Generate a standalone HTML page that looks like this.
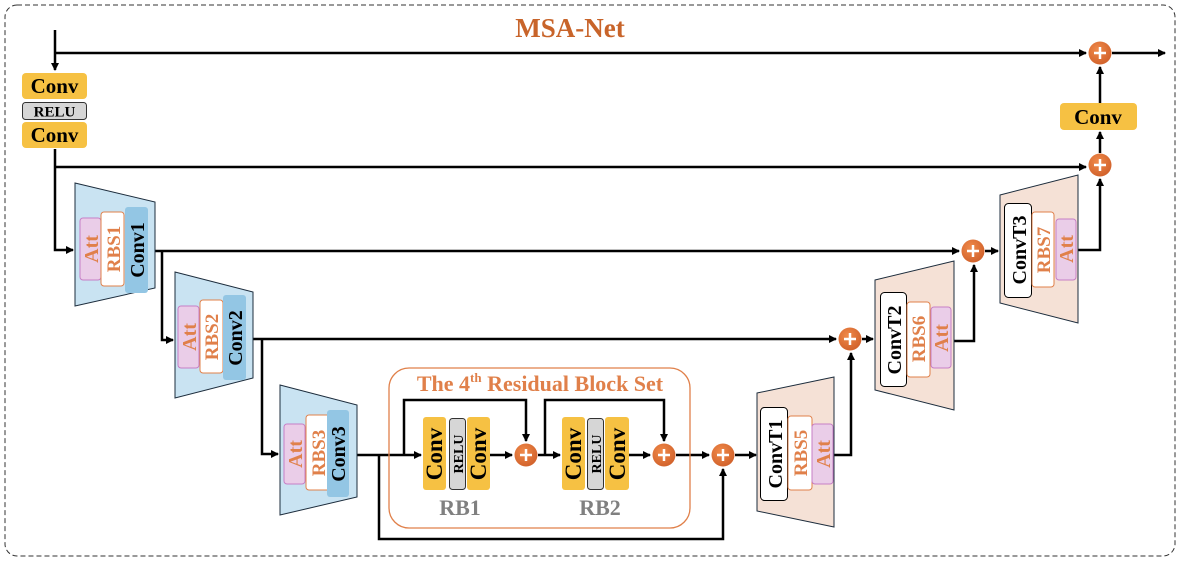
<!DOCTYPE html>
<html><head><meta charset="utf-8"><style>
html,body{margin:0;padding:0;background:#fff;}
svg{display:block;font-family:"Liberation Serif",serif;font-weight:bold;}
</style></head><body>
<svg width="1180" height="564" viewBox="0 0 1180 564" xmlns="http://www.w3.org/2000/svg">
<defs>
<marker id="a" markerWidth="8" markerHeight="8" refX="7" refY="4" orient="auto" markerUnits="userSpaceOnUse"><path d="M0,0 L8,4 L0,8 z" fill="#000"/></marker>
<radialGradient id="g" cx="0.4" cy="0.35" r="0.7"><stop offset="0" stop-color="#f08a4a"/><stop offset="1" stop-color="#d0602a"/></radialGradient>
<g id="plus"><circle r="11.5" fill="url(#g)"/><path d="M-6,0H6M0,-6V6" stroke="#fff" stroke-width="2.5"/></g>
</defs>
<rect x="5" y="5" width="1170" height="551" rx="12" fill="none" stroke="#333" stroke-dasharray="5,3" stroke-width="1"/>
<text x="570" y="37" font-size="27" fill="#c8642a" text-anchor="middle">MSA-Net</text>

<g stroke="#000" stroke-width="2.5" fill="none">
<path d="M55,30V70" marker-end="url(#a)"/>
<path d="M55,53H1086" marker-end="url(#a)"/>
<path d="M1112,53H1165" marker-end="url(#a)"/>
<path d="M55,149V250H73" marker-end="url(#a)"/>
<path d="M55,167H1086" marker-end="url(#a)"/>
<path d="M150,251H959" marker-end="url(#a)"/>
<path d="M162,251V340H173" marker-end="url(#a)"/>
<path d="M248,339H836" marker-end="url(#a)"/>
<path d="M262,339V454H278" marker-end="url(#a)"/>
<path d="M352,455H421" marker-end="url(#a)"/>
<path d="M379,455V539H723V469" marker-end="url(#a)"/>
<path d="M404,455V400H526V441" marker-end="url(#a)"/>
<path d="M490,455H512" marker-end="url(#a)"/>
<path d="M538,455H560" marker-end="url(#a)"/>
<path d="M545,455V400H664V441" marker-end="url(#a)"/>
<path d="M629,455H650" marker-end="url(#a)"/>
<path d="M676,455H709" marker-end="url(#a)"/>
<path d="M735,455H756" marker-end="url(#a)"/>
<path d="M833,455H851V353" marker-end="url(#a)"/>
<path d="M862,339H873" marker-end="url(#a)"/>
<path d="M951,341H974V265" marker-end="url(#a)"/>
<path d="M985,251H998" marker-end="url(#a)"/>
<path d="M1076,250H1100V179" marker-end="url(#a)"/>
<path d="M1100,153V132" marker-end="url(#a)"/>
<path d="M1100,103V67" marker-end="url(#a)"/>
</g>

<use href="#plus" x="1100" y="53"/>
<use href="#plus" x="1100" y="165"/>
<use href="#plus" x="973" y="251"/>
<use href="#plus" x="850" y="339"/>
<use href="#plus" x="526" y="455"/>
<use href="#plus" x="664" y="455"/>
<use href="#plus" x="723" y="455"/>

<rect x="22" y="73" width="65" height="26" rx="4" fill="#f6c143"/>
<text x="54.5" y="93" font-size="21" text-anchor="middle">Conv</text>
<rect x="22.5" y="102.5" width="64" height="17" rx="3" fill="#d6d6d6" stroke="#333"/>
<text x="54.5" y="116.5" font-size="15" text-anchor="middle">RELU</text>
<rect x="22" y="122" width="65" height="26" rx="4" fill="#f6c143"/>
<text x="54.5" y="142" font-size="21" text-anchor="middle">Conv</text>

<rect x="1060" y="103" width="77" height="27" rx="4" fill="#f6c143"/>
<text x="1098" y="124" font-size="21" text-anchor="middle">Conv</text>

<polygon points="75,183 155,202 155,288 75,306" fill="#c9e3f2" stroke="#1c2c3c" stroke-width="1"/>
<rect x="80" y="218" width="21" height="62" rx="3" fill="#eacde8" stroke="#c77ec6"/>
<rect x="101" y="212" width="23" height="74" rx="3" fill="#fff" stroke="#e0804a"/>
<rect x="125" y="207" width="23" height="86" rx="3" fill="#93c6e4"/>
<text transform="translate(98,249) rotate(-90)" font-size="20" fill="#e0804a" text-anchor="middle">Att</text>
<text transform="translate(120,249) rotate(-90)" font-size="19" fill="#e0804a" text-anchor="middle">RBS1</text>
<text transform="translate(144,250) rotate(-90)" font-size="20" text-anchor="middle">Conv1</text>

<polygon points="175,272 253,292 253,378 175,398" fill="#c9e3f2" stroke="#1c2c3c" stroke-width="1"/>
<rect x="178" y="306" width="21" height="62" rx="3" fill="#eacde8" stroke="#c77ec6"/>
<rect x="200" y="300" width="23" height="73" rx="3" fill="#fff" stroke="#e0804a"/>
<rect x="223" y="295" width="23" height="85" rx="3" fill="#93c6e4"/>
<text transform="translate(196,337) rotate(-90)" font-size="20" fill="#e0804a" text-anchor="middle">Att</text>
<text transform="translate(218,337) rotate(-90)" font-size="19" fill="#e0804a" text-anchor="middle">RBS2</text>
<text transform="translate(242,338) rotate(-90)" font-size="20" text-anchor="middle">Conv2</text>

<polygon points="280,385 357,405 357,497 280,515" fill="#c9e3f2" stroke="#1c2c3c" stroke-width="1"/>
<rect x="284" y="424" width="21" height="60" rx="3" fill="#eacde8" stroke="#c77ec6"/>
<rect x="306" y="415" width="24" height="75" rx="3" fill="#fff" stroke="#e0804a"/>
<rect x="327" y="410" width="22" height="87" rx="3" fill="#93c6e4"/>
<text transform="translate(302,454) rotate(-90)" font-size="20" fill="#e0804a" text-anchor="middle">Att</text>
<text transform="translate(325,453) rotate(-90)" font-size="19" fill="#e0804a" text-anchor="middle">RBS3</text>
<text transform="translate(345,454) rotate(-90)" font-size="20" text-anchor="middle">Conv3</text>

<rect x="389" y="368" width="301" height="160" rx="20" fill="none" stroke="#e0804a" stroke-width="1.3"/>
<text x="540" y="391" font-size="22" fill="#e0804a" text-anchor="middle">The 4<tspan font-size="13" dy="-9">th</tspan><tspan dy="9"> Residual Block Set</tspan></text>
<rect x="423" y="417" width="23" height="73" rx="3" fill="#f6c143"/>
<rect x="449.5" y="418.5" width="16" height="71" rx="3" fill="#d6d6d6" stroke="#333"/>
<rect x="467" y="417" width="23" height="73" rx="3" fill="#f6c143"/>
<text transform="translate(442,454) rotate(-90)" font-size="23" text-anchor="middle">Conv</text>
<text transform="translate(463,454) rotate(-90)" font-size="14" text-anchor="middle">RELU</text>
<text transform="translate(486,454) rotate(-90)" font-size="23" text-anchor="middle">Conv</text>
<text x="460" y="515" font-size="22" fill="#808080" text-anchor="middle">RB1</text>
<rect x="562" y="417" width="23" height="73" rx="3" fill="#f6c143"/>
<rect x="587.5" y="418.5" width="16" height="71" rx="3" fill="#d6d6d6" stroke="#333"/>
<rect x="605" y="417" width="24" height="73" rx="3" fill="#f6c143"/>
<text transform="translate(581,454) rotate(-90)" font-size="23" text-anchor="middle">Conv</text>
<text transform="translate(601,454) rotate(-90)" font-size="14" text-anchor="middle">RELU</text>
<text transform="translate(625,454) rotate(-90)" font-size="23" text-anchor="middle">Conv</text>
<text x="600" y="515" font-size="22" fill="#808080" text-anchor="middle">RB2</text>

<polygon points="757,393 834,377 834,527 757,511" fill="#f5e1d6" stroke="#1c2c3c" stroke-width="1"/>
<rect x="760.5" y="407.5" width="27" height="93" rx="4" fill="#fff" stroke="#000"/>
<rect x="788" y="416" width="24" height="74" rx="3" fill="#fff" stroke="#e0804a"/>
<rect x="812" y="424" width="21" height="60" rx="3" fill="#eacde8" stroke="#c77ec6"/>
<text transform="translate(782,454) rotate(-90)" font-size="20" text-anchor="middle">ConvT1</text>
<text transform="translate(807,453) rotate(-90)" font-size="19" fill="#e0804a" text-anchor="middle">RBS5</text>
<text transform="translate(830,454) rotate(-90)" font-size="20" fill="#e0804a" text-anchor="middle">Att</text>

<polygon points="875,280 954,261 954,410 875,390" fill="#f5e1d6" stroke="#1c2c3c" stroke-width="1"/>
<rect x="880.5" y="292.5" width="26" height="94" rx="4" fill="#fff" stroke="#000"/>
<rect x="907" y="302" width="23" height="75" rx="3" fill="#fff" stroke="#e0804a"/>
<rect x="931" y="307" width="20" height="61" rx="3" fill="#eacde8" stroke="#c77ec6"/>
<text transform="translate(901,340) rotate(-90)" font-size="20" text-anchor="middle">ConvT2</text>
<text transform="translate(925,339) rotate(-90)" font-size="19" fill="#e0804a" text-anchor="middle">RBS6</text>
<text transform="translate(948,338) rotate(-90)" font-size="20" fill="#e0804a" text-anchor="middle">Att</text>

<polygon points="1000,195 1078,175 1078,323 1000,303" fill="#f5e1d6" stroke="#1c2c3c" stroke-width="1"/>
<rect x="1004.5" y="203.5" width="27" height="94" rx="4" fill="#fff" stroke="#000"/>
<rect x="1032" y="212" width="22" height="75" rx="3" fill="#fff" stroke="#e0804a"/>
<rect x="1056" y="219" width="20" height="61" rx="3" fill="#eacde8" stroke="#c77ec6"/>
<text transform="translate(1026,250) rotate(-90)" font-size="20" text-anchor="middle">ConvT3</text>
<text transform="translate(1050,250) rotate(-90)" font-size="19" fill="#e0804a" text-anchor="middle">RBS7</text>
<text transform="translate(1073,249) rotate(-90)" font-size="20" fill="#e0804a" text-anchor="middle">Att</text>
</svg>
</body></html>
